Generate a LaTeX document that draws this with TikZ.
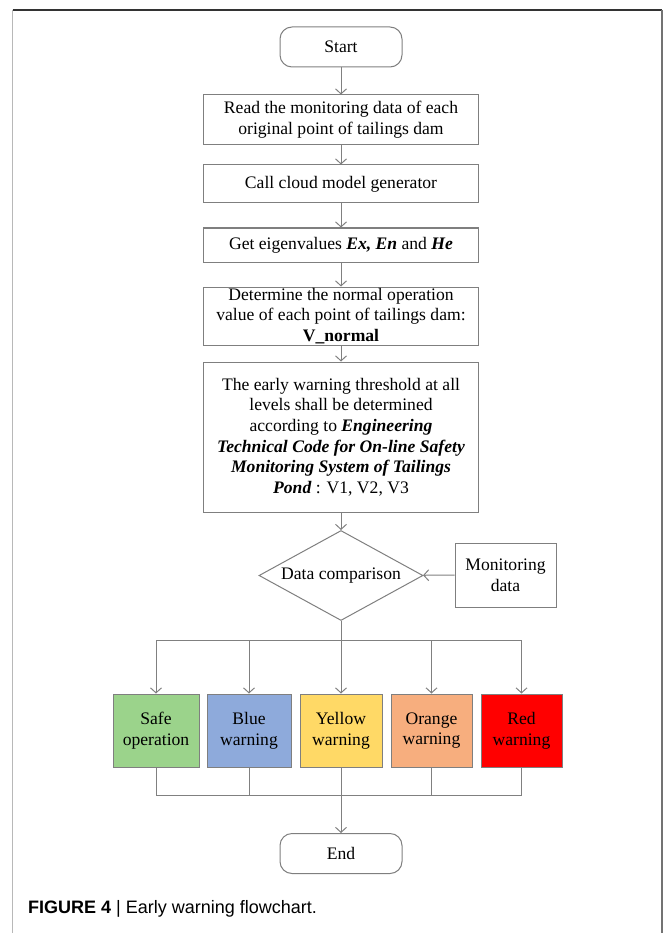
\documentclass[tikz,border=0pt]{standalone}
\usepackage{fontspec}
\setmainfont{Liberation Serif}
\newfontfamily\capfont{Liberation Sans}
\usetikzlibrary{arrows.meta,shapes.geometric}

\definecolor{edgegray}{HTML}{808080}
\definecolor{boxgray}{HTML}{7F7F7F}
\definecolor{safegreen}{HTML}{9BD38B}
\definecolor{warnblue}{HTML}{8EAADB}
\definecolor{warnyellow}{HTML}{FFD966}
\definecolor{warnorange}{HTML}{F7AE7E}
\definecolor{warnred}{HTML}{FF0000}

\tikzset{
  txt/.style={font=\fontsize{17.6}{20.7}\selectfont, align=center, text=black},
  terminal/.style={txt, draw=boxgray, line width=1pt, rounded corners=12pt,
    minimum width=122pt, minimum height=40pt, inner sep=0pt},
  procbox/.style={txt, draw=boxgray, line width=1pt, minimum width=275pt, inner sep=0pt},
  decision/.style={txt, draw=boxgray, line width=1pt, diamond, aspect=1.82,
    minimum width=164pt, minimum height=90pt, inner sep=0pt},
  sidebox/.style={txt, draw=boxgray, line width=1pt, minimum width=101pt,
    minimum height=64pt, inner sep=0pt},
  levelbox/.style={txt, draw=boxgray, line width=1pt, minimum width=84pt,
    minimum height=73pt, inner sep=0pt},
  flow/.style={draw=edgegray, line width=1pt, -{Straight Barb[length=5pt,width=11pt]}},
  link/.style={draw=edgegray, line width=1pt},
  bi/.style={font=\bfseries\itshape}
}

\begin{document}
\begin{tikzpicture}[x=1pt,y=-1pt]
\useasboundingbox (0,0) rectangle (665,933);

% page frame
\draw[line width=1.3pt, color=black!80] (12.5,10) -- (662,10);
\draw[line width=1.5pt, color=black!28] (12.5,10) -- (12.5,933);
\draw[line width=1.3pt, color=black!55] (662,10) -- (662,933);

% main column
\node[terminal] (start) at (341,47) {Start};
\node[procbox, minimum height=50pt] (read) at (341,120)
  {Read the monitoring data of each\\original point of tailings dam};
\node[procbox, minimum height=38pt] (cloud) at (341,184) {Call cloud model generator};
\node[procbox, minimum height=34pt] (eigen) at (341,245)
  {Get eigenvalues \textbf{\textit{Ex, En}} and \textbf{\textit{He}}};
\node[procbox, minimum height=58pt] (normal) at (341,316)
  {Determine the normal operation\\value of each point of tailings dam:\\\textbf{V\_normal}};
\node[procbox, minimum height=150pt] (thresh) at (341,437)
  {The early warning threshold at all\\levels shall be determined\\according to \textbf{\textit{Engineering}}\\\textbf{\textit{Technical Code for On-line Safety}}\\\textbf{\textit{Monitoring System of Tailings}}\\\textbf{\textit{Pond}} : V1, V2, V3};
\node[decision] (cmp) at (341,575.5) {Data comparison};
\node[sidebox] (mon) at (505.5,575) {Monitoring\\data};

% warning levels
\node[levelbox, fill=safegreen, minimum width=86pt] (safe) at (156,730.5) {Safe\\operation};
\node[levelbox, fill=warnblue] (blue) at (249,730.5) {Blue\\warning};
\node[levelbox, fill=warnyellow, minimum width=82pt] (yellow) at (341,730.5) {Yellow\\warning};
\node[levelbox, fill=warnorange, minimum width=81pt] (orange) at (431.5,730.5) {Orange\\warning};
\node[levelbox, fill=warnred, minimum width=81pt] (red) at (521.5,730.5) {Red\\warning};

\node[terminal] (end) at (341,853.5) {End};

% sequential flow
\draw[flow] (start) -- (read);
\draw[flow] (read) -- (cloud);
\draw[flow] (cloud) -- (eigen);
\draw[flow] (eigen) -- (normal);
\draw[flow] (normal) -- (thresh);
\draw[flow] (thresh) -- (cmp);
\draw[flow] (mon) -- (cmp);

% branching to the levels
\coordinate (split) at (341,640);
\draw[link] (split -| safe) -- (split -| red);
\draw[flow] (cmp.south) -- (yellow.north);
\foreach \lv in {safe,blue,orange,red}
  \draw[flow] (split -| \lv) -- (\lv.north);

% merging into the end
\coordinate (join) at (341,795);
\draw[link] (join -| safe) -- (join -| red);
\foreach \lv in {safe,blue,orange,red}
  \draw[link] (\lv.south) -- (join -| \lv);
\draw[flow] (yellow.south) -- (end.north);

% caption
\node[anchor=base west, inner sep=0pt, font=\capfont\fontsize{18}{20}\selectfont] (cap) at (28,913)
  {\textbf{FIGURE 4} | Early warning flowchart.};
\end{tikzpicture}
\end{document}
